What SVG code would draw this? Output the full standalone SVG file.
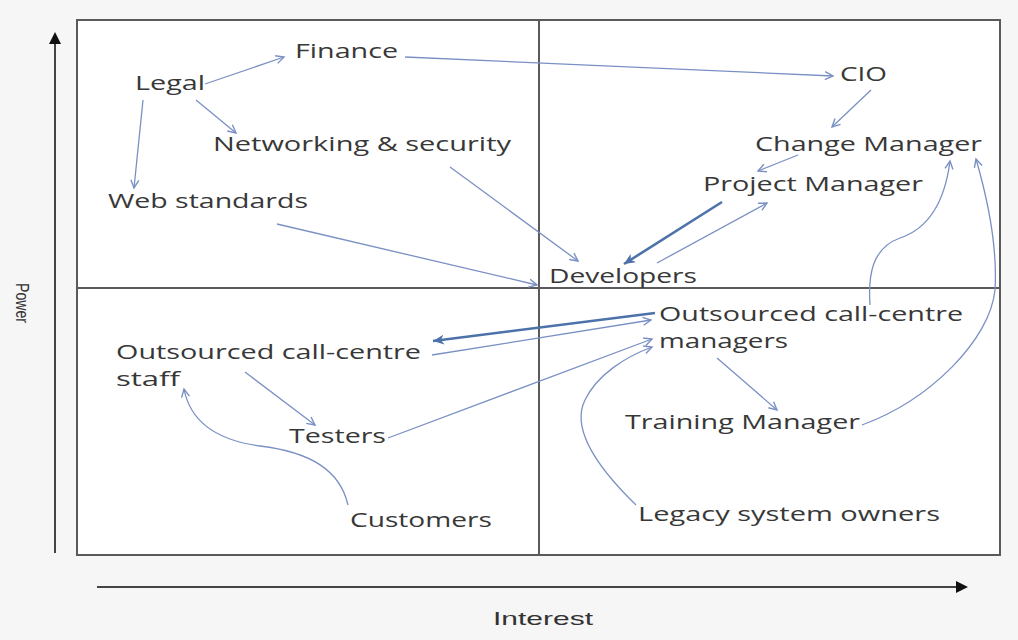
<svg xmlns="http://www.w3.org/2000/svg" width="1018" height="640" viewBox="0 0 1018 640">
<defs>
<style>
.lbl{font-family:"Open Sans","Noto Sans",sans-serif;font-size:20px;fill:#383838;}
.ax{font-family:"Liberation Sans",Arial,sans-serif;font-size:19px;fill:#333;}
.c{fill:none;stroke:#7a90c4;stroke-width:1.3;marker-end:url(#arr);}
.ct{fill:none;stroke:#4d72aa;stroke-width:2.6;marker-end:url(#arrT);}
.frame{fill:#fff;stroke:#5a5a5a;stroke-width:2;}
.div{stroke:#5a5a5a;stroke-width:2;}
.axis{stroke:#444;stroke-width:2;}
</style>
<marker id="arr" markerUnits="userSpaceOnUse" markerWidth="12" markerHeight="12" refX="9" refY="5" orient="auto">
<path d="M1,1 L9,5 L1,9" fill="none" stroke="#7a90c4" stroke-width="1.4"/>
</marker>
<marker id="arrT" markerUnits="userSpaceOnUse" markerWidth="14" markerHeight="14" refX="11" refY="6" orient="auto">
<path d="M0,1 L11,6 L0,11 L3,6 Z" fill="#4d72aa"/>
</marker>
<marker id="axArr" markerUnits="userSpaceOnUse" markerWidth="14" markerHeight="14" refX="4" refY="6" orient="auto">
<path d="M0,0 L12,6 L0,12 Z" fill="#111"/>
</marker>
</defs>
<rect x="0" y="0" width="1018" height="640" fill="#f6f6f6"/>
<g id="axes">
<rect class="frame" x="77" y="20" width="923" height="535"/>
<line class="div" x1="539" y1="20" x2="539" y2="555"/>
<line class="div" x1="77" y1="288" x2="1000" y2="288"/>
<line class="axis" x1="55" y1="553" x2="55" y2="40" marker-end="url(#axArr)"/>
<line class="axis" x1="97" y1="587" x2="960" y2="587" marker-end="url(#axArr)"/>
<text class="ax" x="493" y="625" textLength="100" lengthAdjust="spacingAndGlyphs">Interest</text>
<text class="ax" transform="translate(16,283) rotate(90)" textLength="40" lengthAdjust="spacingAndGlyphs">Power</text>
</g>
<g id="connectors">
<path class="c" d="M205,84 L284,57"/>
<path class="c" d="M196,100 L236,133"/>
<path class="c" d="M143,100 L134,188"/>
<path class="c" d="M405,57 L833,76"/>
<path class="c" d="M871,90 L832,127"/>
<path class="c" d="M798,155 L758,171"/>
<path class="ct" d="M722,202 L624,264"/>
<path class="c" d="M657,263 L767,203"/>
<path class="c" d="M450,167 L578,261"/>
<path class="c" d="M277,224 L537,285"/>
<path class="ct" d="M655,313 L433,341"/>
<path class="c" d="M432,355 L651,320"/>
<path class="c" d="M388,438 L652,339"/>
<path class="c" d="M636,505 C600,470 570,430 585,400 C597,375 625,357 652,347"/>
<path class="c" d="M717,358 L777,410"/>
<path class="c" d="M862,425 C930,400 990,340 995,290 C998,240 985,190 976,159"/>
<path class="c" d="M870,305 C868,275 872,248 900,238 C930,228 945,200 950,161"/>
<path class="c" d="M348,505 C340,470 310,452 260,446 C215,440 190,420 184,389"/>
<path class="c" d="M245,372 L315,425"/>
</g>
<g id="finance"><text class="lbl" x="295" y="58" textLength="103" lengthAdjust="spacingAndGlyphs">Finance</text></g>
<g id="legal"><text class="lbl" x="135" y="90" textLength="70" lengthAdjust="spacingAndGlyphs">Legal</text></g>
<g id="networking"><text class="lbl" x="213" y="151" textLength="298" lengthAdjust="spacingAndGlyphs">Networking &amp; security</text></g>
<g id="web"><text class="lbl" x="108" y="208" textLength="200" lengthAdjust="spacingAndGlyphs">Web standards</text></g>
<g id="cio"><text class="lbl" x="840" y="81" textLength="47" lengthAdjust="spacingAndGlyphs">CIO</text></g>
<g id="change"><text class="lbl" x="755" y="151" textLength="227" lengthAdjust="spacingAndGlyphs">Change Manager</text></g>
<g id="project"><text class="lbl" x="703" y="191" textLength="220" lengthAdjust="spacingAndGlyphs">Project Manager</text></g>
<g id="developers"><text class="lbl" x="549" y="283" textLength="148" lengthAdjust="spacingAndGlyphs">Developers</text></g>
<g id="ocm"><text class="lbl" x="659" y="321" textLength="304" lengthAdjust="spacingAndGlyphs">Outsourced call-centre</text><text class="lbl" x="659" y="348" textLength="129" lengthAdjust="spacingAndGlyphs">managers</text></g>
<g id="ocs"><text class="lbl" x="116" y="359" textLength="305" lengthAdjust="spacingAndGlyphs">Outsourced call-centre</text><text class="lbl" x="116" y="386" textLength="64" lengthAdjust="spacingAndGlyphs">staff</text></g>
<g id="testers"><text class="lbl" x="289" y="443" textLength="97" lengthAdjust="spacingAndGlyphs">Testers</text></g>
<g id="customers"><text class="lbl" x="350" y="527" textLength="142" lengthAdjust="spacingAndGlyphs">Customers</text></g>
<g id="training"><text class="lbl" x="625" y="429" textLength="235" lengthAdjust="spacingAndGlyphs">Training Manager</text></g>
<g id="legacy"><text class="lbl" x="638" y="521" textLength="302" lengthAdjust="spacingAndGlyphs">Legacy system owners</text></g>
</svg>
